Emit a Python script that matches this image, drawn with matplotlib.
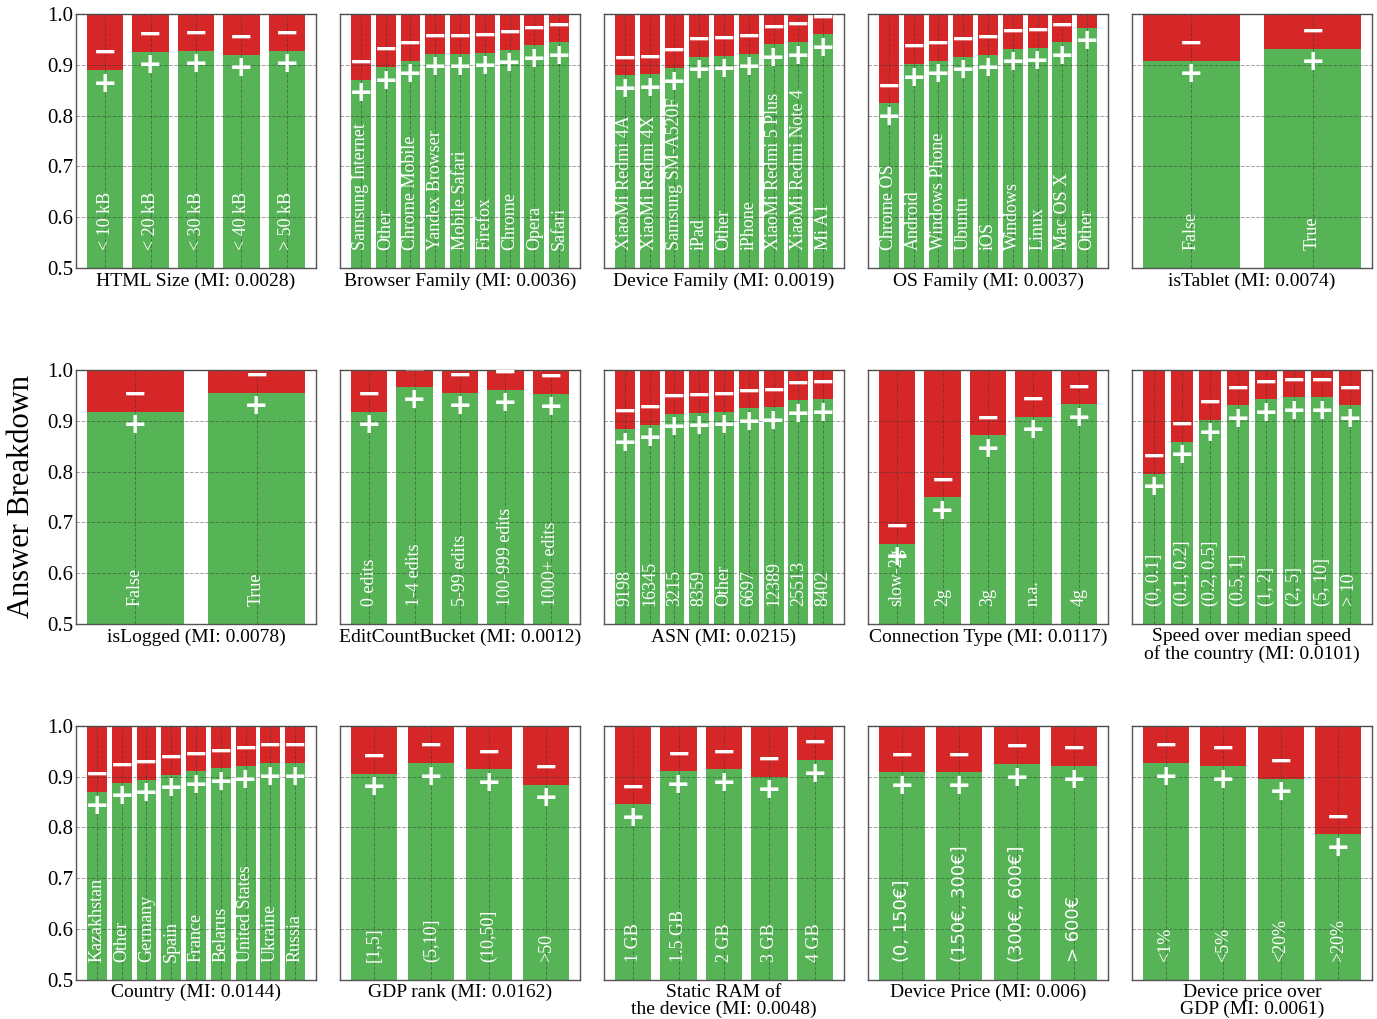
import numpy as np
import matplotlib.pyplot as plt

plt.rcParams['font.family'] = ['Liberation Serif', 'DejaVu Serif']

GREEN = '#56b356'
RED = '#d62728'

# share of positive answers per category, one pair of lists per feature
html_size = ['< 10 kB', '< 20 kB', '< 30 kB', '< 40 kB', '> 50 kB']
html_size_pos = [0.890, 0.926, 0.928, 0.920, 0.928]

browser = ['Samsung Internet', 'Other', 'Chrome Mobile', 'Yandex Browser',
           'Mobile Safari', 'Firefox', 'Chrome', 'Opera', 'Safari']
browser_pos = [0.871, 0.896, 0.908, 0.922, 0.922, 0.924, 0.930, 0.938, 0.944]

device = ['XiaoMi Redmi 4A', 'XiaoMi Redmi 4X', 'Samsung SM-A520F', 'iPad',
          'Other', 'iPhone', 'XiaoMi Redmi 5 Plus', 'XiaoMi Redmi Note 4', 'Mi A1']
device_pos = [0.879, 0.881, 0.894, 0.916, 0.918, 0.922, 0.940, 0.945, 0.960]

os_family = ['Chrome OS', 'Android', 'Windows Phone', 'Ubuntu', 'iOS',
             'Windows', 'Linux', 'Mac OS X', 'Other']
os_family_pos = [0.825, 0.902, 0.908, 0.916, 0.920, 0.932, 0.934, 0.944, 0.973]

is_tablet = ['False', 'True']
is_tablet_pos = [0.908, 0.932]

is_logged = ['False', 'True']
is_logged_pos = [0.918, 0.955]

edit_count = ['0 edits', '1-4 edits', '5-99 edits', '100-999 edits', '1000+ edits']
edit_count_pos = [0.918, 0.967, 0.955, 0.961, 0.953]

asn = ['9198', '16345', '3215', '8359', 'Other', '6697', '12389', '25513', '8402']
asn_pos = [0.884, 0.892, 0.914, 0.916, 0.918, 0.924, 0.926, 0.940, 0.942]

conn_type = ['slow-2g', '2g', '3g', 'n.a.', '4g']
conn_type_pos = [0.658, 0.749, 0.871, 0.908, 0.932]

speed = ['(0, 0.1]', '(0.1, 0.2]', '(0.2, 0.5]', '(0.5, 1]', '(1, 2]',
         '(2, 5]', '(5, 10]', '> 10']
speed_pos = [0.796, 0.859, 0.902, 0.930, 0.942, 0.946, 0.946, 0.930]

country = ['Kazakhstan', 'Other', 'Germany', 'Spain', 'France', 'Belarus',
           'United States', 'Ukraine', 'Russia']
country_pos = [0.870, 0.888, 0.894, 0.904, 0.911, 0.917, 0.921, 0.927, 0.927]

gdp_rank = ['[1,5]', '(5,10]', '(10,50]', '>50']
gdp_rank_pos = [0.906, 0.927, 0.915, 0.884]

ram = ['1 GB', '1.5 GB', '2 GB', '3 GB', '4 GB']
ram_pos = [0.846, 0.911, 0.915, 0.900, 0.933]

price = ['(0, 150€]', '(150€, 300€]', '(300€, 600€]', '> 600€']
price_pos = [0.909, 0.909, 0.925, 0.921]

price_gdp = ['<1%', '<5%', '<20%', '>20%']
price_gdp_pos = [0.927, 0.921, 0.896, 0.787]

panels = [
    ('HTML Size (MI: 0.0028)', html_size, html_size_pos),
    ('Browser Family (MI: 0.0036)', browser, browser_pos),
    ('Device Family (MI: 0.0019)', device, device_pos),
    ('OS Family (MI: 0.0037)', os_family, os_family_pos),
    ('isTablet (MI: 0.0074)', is_tablet, is_tablet_pos),
    ('isLogged (MI: 0.0078)', is_logged, is_logged_pos),
    ('EditCountBucket (MI: 0.0012)', edit_count, edit_count_pos),
    ('ASN (MI: 0.0215)', asn, asn_pos),
    ('Connection Type (MI: 0.0117)', conn_type, conn_type_pos),
    ('Speed over median speed\nof the country (MI: 0.0101)', speed, speed_pos),
    ('Country (MI: 0.0144)', country, country_pos),
    ('GDP rank (MI: 0.0162)', gdp_rank, gdp_rank_pos),
    ('Static RAM of\nthe device (MI: 0.0048)', ram, ram_pos),
    ('Device Price (MI: 0.006)', price, price_pos),
    ('Device price over\nGDP (MI: 0.0061)', price_gdp, price_gdp_pos),
]

fig, axes = plt.subplots(3, 5, figsize=(13.77, 10.19), dpi=100, sharey=True)
fig.subplots_adjust(left=0.0552, right=0.9964, top=0.9863, bottom=0.0383,
                    wspace=0.1, hspace=0.40)

for ax, (title, cats, pos) in zip(axes.flat, panels):
    x = np.arange(len(cats))
    pos = np.array(pos)
    ax.bar(x, pos, color=GREEN, width=0.8)
    ax.bar(x, 1 - pos, bottom=pos, color=RED, width=0.8)

    # the euro sign is set in the sans font
    label_family = 'DejaVu Sans' if '€' in ''.join(cats) else None
    for xi, c, p in zip(x, cats, pos):
        ax.text(xi, 0.536, c, rotation=90, ha='center', va='bottom',
                color='white', fontsize=13, family=label_family, zorder=4)
        # signs near the top get cut by the axes box
        ax.text(xi, p + 0.033, '\u2212', ha='center', va='center',
                color='white', fontsize=21, fontweight='bold',
                family='DejaVu Sans', zorder=4, clip_on=True)
        ax.text(xi, p - 0.027, '+', ha='center', va='center',
                color='white', fontsize=21, fontweight='bold',
                family='DejaVu Sans', zorder=4, clip_on=True)

    ax.set_ylim(0.5, 1.0)
    ax.set_yticks([0.5, 0.6, 0.7, 0.8, 0.9, 1.0])
    ax.set_xticks(x)
    ax.set_xticklabels([])
    ax.set_axisbelow(False)
    ax.grid(True, color='#333333', linestyle='--', linewidth=0.7, alpha=0.45)
    ax.tick_params(length=0, labelsize=15, pad=2)
    for s in ax.spines.values():
        s.set_color('#555555')
        s.set_linewidth(1.0)
    ax.set_xlabel(title, fontsize=14, labelpad=1, linespacing=1.0)

axes[1, 0].set_ylabel('Answer Breakdown', fontsize=22, labelpad=8)

fig.savefig('out.png', dpi=100)
plt.close()
